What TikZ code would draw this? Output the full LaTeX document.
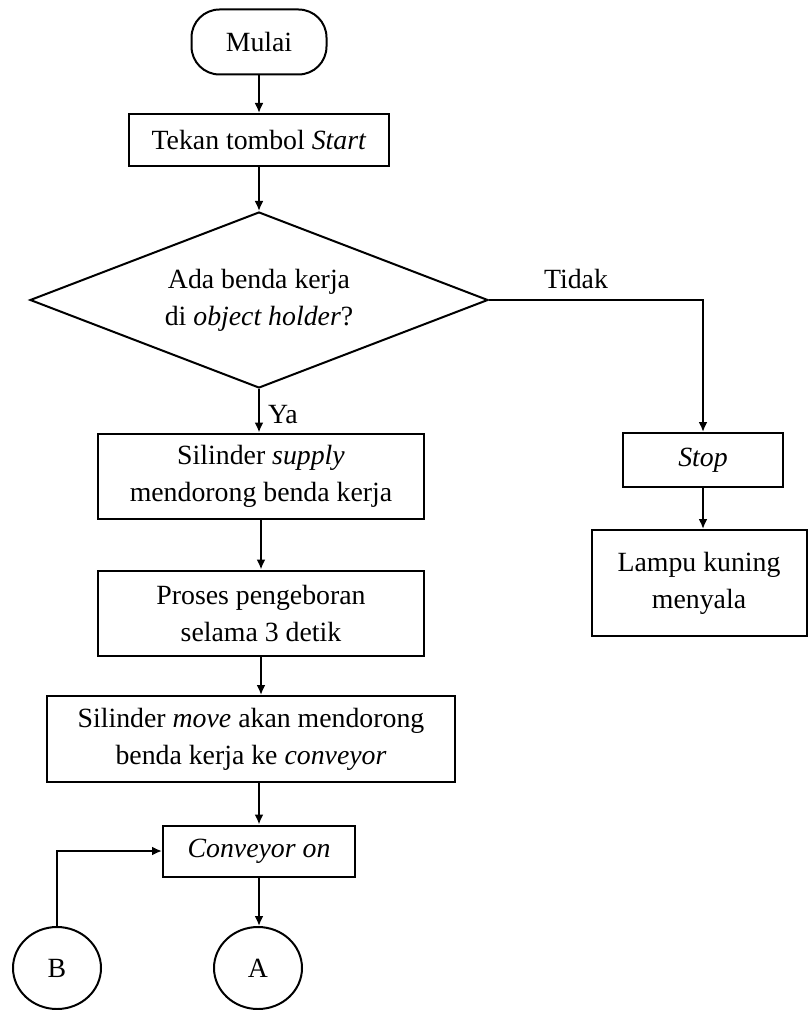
\documentclass[tikz,border=0pt]{standalone}
\usepackage{fontspec}
\setmainfont{Liberation Serif}
\usetikzlibrary{shapes.geometric, arrows.meta}

\tikzset{
  proc/.style = {draw, rectangle, align = center, inner sep = 0pt},
  terminal/.style = {draw, rectangle, rounded corners = 14pt, align = center,
                     minimum width = 67.5pt, minimum height = 32.5pt},
  decision/.style = {draw, diamond, aspect = 2.6, align = center, inner sep = 0pt,
                     minimum width = 229pt, minimum height = 88pt},
  connector/.style = {draw, ellipse, inner sep = 0pt,
                      minimum width = 44pt, minimum height = 41pt},
  arr/.style = {-{Latex[length = 5pt, width = 4.5pt]}}
}

\begin{document}
\begin{tikzpicture}[x = .5pt, y = -.5pt, line width = 1pt,
    font = \fontsize{13.9}{18.5}\selectfont]
  \useasboundingbox (0,0) rectangle (809,1010);

  % main column
  \node[terminal] (mulai) at (259,42) {Mulai};
  \node[proc, minimum width = 130pt, minimum height = 26pt] (tekan) at (259,140)
       {Tekan tombol \textit{Start}};
  \node[decision] (ada) at (259,300) {Ada benda kerja\\di \textit{object holder}?};
  \node[proc, minimum width = 163pt, minimum height = 42.5pt] (supply) at (261,476)
       {Silinder \textit{supply}\\mendorong benda kerja};
  \node[proc, minimum width = 163pt, minimum height = 42.5pt] (bor) at (261,613)
       {Proses pengeboran\\selama 3 detik};
  \node[proc, minimum width = 204pt, minimum height = 43pt] (move) at (251,739)
       {Silinder \textit{move} akan mendorong\\benda kerja ke \textit{conveyor}};
  \node[proc, minimum width = 96pt, minimum height = 25.5pt] (conv) at (259,851)
       {\textit{Conveyor on}};
  \node[connector] (A) at (258,968) {A};
  \node[connector] (B) at (57,968) {B};

  % right branch
  \node[proc, minimum width = 80pt, minimum height = 27pt] (stop) at (703,460)
       {\textit{Stop}};
  \node[proc, minimum width = 107.5pt, minimum height = 53pt] (lampu) at (699,583)
       {Lampu kuning\\menyala};

  \node (ya) at (283,415) {Ya};
  \node (tidak) at (576,279) {Tidak};

  \draw[arr] (mulai) -- (mulai |- tekan.north);
  \draw[arr] (tekan) -- (tekan |- ada.north);
  \draw[arr] (ada.south) -- (ada.south |- supply.north);
  \draw[arr] (supply) -- (supply |- bor.north);
  \draw[arr] (bor) -- (bor |- move.north);
  \draw[arr] (conv |- move.south) -- (conv);
  \draw[arr] (conv) -- (conv |- A.north);
  \draw[arr] (B) |- (conv);
  \draw[arr] (ada.east) -| (stop.north);
  \draw[arr] (stop) -- (stop |- lampu.north);
\end{tikzpicture}
\end{document}
